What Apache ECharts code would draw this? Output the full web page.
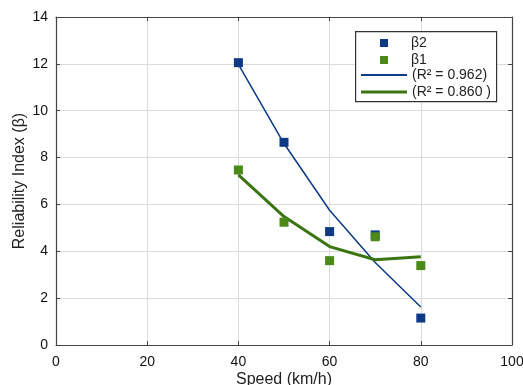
<!DOCTYPE html>
<html>
<head>
<meta charset="utf-8">
<script src="https://cdn.jsdelivr.net/npm/echarts@6/dist/echarts.min.js"></script>
<style>
  html, body { margin: 0; padding: 0; background: #fff; }
  #chart { width: 523px; height: 385px; }
</style>
</head>
<body>
<div id="chart"></div>
<script>
// Measured reliability index per speed, with fitted trend values
const speeds = [40, 50, 60, 70, 80];
const beta2 = [12.05, 8.65, 4.84, 4.70, 1.15];
const beta1 = [7.47, 5.24, 3.60, 4.62, 3.39];
const fit2 = [11.98, 8.60, 5.75, 3.52, 1.62];
const fit1 = [7.26, 5.48, 4.20, 3.64, 3.77];
const xTicks = [0, 20, 40, 60, 80, 100];
const yTicks = [0, 2, 4, 6, 8, 10, 12, 14];
const names = ['β2', 'β1', '(R² = 0.962)', '(R² = 0.860 )'];

const BLUE = '#0c3a86';
const GREEN_PT = '#4b8a18';
const GREEN_LN = '#3b7512';
const FONT = 'Liberation Sans, Arial, sans-serif';

const pairs = (xs, ys) => xs.map((x, i) => [x, ys[i]]);

const chart = echarts.init(document.getElementById('chart'));

const frameAxis = {
  axisLine: { show: true, onZero: false, lineStyle: { color: '#444', width: 1.2 } },
  axisTick: { show: true, inside: true, length: 4, lineStyle: { color: '#444' } }
};

// One legend row per entry so each key can carry its own size
function legendRow(name, left, top, w, h, icon, textPad) {
  return {
    data: [{ name: name, icon: icon }],
    left: left, top: top, padding: 0,
    itemWidth: w, itemHeight: h,
    textStyle: { fontSize: 14, color: '#222', padding: [0, 0, 0, textPad], fontFamily: FONT }
  };
}

chart.setOption({
  animation: false,
  textStyle: { fontFamily: FONT },
  grid: { left: 56, right: 11, top: 17, bottom: 40, outerBoundsMode: 'none', containLabel: false },
  xAxis: [
    Object.assign({
      type: 'value', min: xTicks[0], max: xTicks[xTicks.length - 1], interval: 20,
      name: 'Speed (km/h)', nameLocation: 'middle', nameGap: 27, nameMoveOverlap: false,
      nameTextStyle: { fontSize: 16, color: '#222', fontFamily: FONT },
      axisLabel: { fontSize: 14, color: '#111', margin: 10, fontFamily: FONT },
      splitLine: { show: true, lineStyle: { color: '#dcdcdc', width: 1 } }
    }, frameAxis),
    Object.assign({
      type: 'value', position: 'top', min: xTicks[0], max: xTicks[xTicks.length - 1], interval: 20,
      axisLabel: { show: false }, splitLine: { show: false }
    }, frameAxis)
  ],
  yAxis: [
    Object.assign({
      type: 'value', min: yTicks[0], max: yTicks[yTicks.length - 1], interval: 2,
      name: 'Reliability Index (β)', nameLocation: 'middle', nameGap: 28, nameMoveOverlap: false,
      nameTextStyle: { fontSize: 16, color: '#222', fontFamily: FONT },
      axisLabel: { fontSize: 14, color: '#111', margin: 8, fontFamily: FONT },
      splitLine: { show: true, lineStyle: { color: '#dcdcdc', width: 1 } }
    }, frameAxis),
    Object.assign({
      type: 'value', position: 'right', min: yTicks[0], max: yTicks[yTicks.length - 1], interval: 2,
      axisLabel: { show: false }, splitLine: { show: false }
    }, frameAxis)
  ],
  legend: [
    legendRow(names[0], 380, 36, 8, 8, 'rect', 18),
    legendRow(names[1], 380, 53, 8, 8, 'rect', 18),
    legendRow(names[2], 361, 68, 46, 2, 'rect', 0),
    legendRow(names[3], 361, 85, 46, 3, 'rect', 0)
  ],
  graphic: [{
    type: 'rect', left: 355, top: 31, z: 1,
    shape: { width: 141, height: 70 },
    style: { fill: '#fff', stroke: '#333', lineWidth: 1.2 }
  }],
  series: [
    {
      name: names[2], type: 'line', data: pairs(speeds, fit2),
      symbol: 'none', lineStyle: { color: BLUE, width: 1.5 }, itemStyle: { color: BLUE }, z: 3
    },
    {
      name: names[3], type: 'line', data: pairs(speeds, fit1),
      symbol: 'none', lineStyle: { color: GREEN_LN, width: 3 }, itemStyle: { color: GREEN_LN }, z: 3
    },
    {
      name: names[0], type: 'scatter', data: pairs(speeds, beta2),
      symbol: 'rect', symbolSize: 9, itemStyle: { color: BLUE, opacity: 1 }, z: 4
    },
    {
      name: names[1], type: 'scatter', data: pairs(speeds, beta1),
      symbol: 'rect', symbolSize: 9, itemStyle: { color: GREEN_PT, opacity: 1 }, z: 5
    }
  ]
});
</script>
</body>
</html>
